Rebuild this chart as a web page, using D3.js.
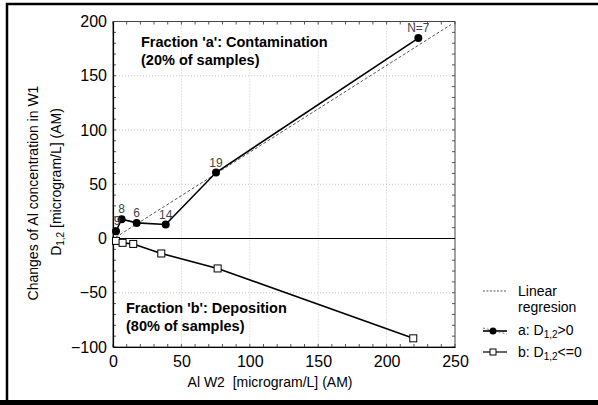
<!DOCTYPE html>
<html><head><meta charset="utf-8">
<script src="https://cdn.jsdelivr.net/npm/d3@7/dist/d3.min.js"></script>
<style>
body{margin:0;background:#fff;}
svg{display:block;font-family:"Liberation Sans",Arial,sans-serif;}
</style></head>
<body><svg id="c" width="598" height="405"></svg>
<script>
// ---- data ----
const aX = [2.2, 6.3, 17.3, 38.5, 75.3, 223.2];
const aY = [6.7, 17.8, 14.4, 12.9, 60.8, 184.7];
const aLabels = ["9", "8", "6", "14", "19", "N=7"];
const bX = [2.2, 7.0, 14.8, 35.3, 76.5, 219.5];
const bY = [-2.2, -4.0, -5.0, -13.8, -27.6, -92.0];
const regX = [2, 247];
const regY = [1.1, 197.1];
const xTicks = [0, 50, 100, 150, 200, 250];
const yTicks = [-100, -50, 0, 50, 100, 150, 200];

const svg = d3.select("#c");
// outer frame
svg.append("path").attr("d","M7,405 V4 H598").attr("fill","none").attr("stroke","#000").attr("stroke-width",2.5);
svg.append("line").attr("x1",0).attr("x2",598).attr("y1",402.5).attr("y2",402.5).attr("stroke","#000").attr("stroke-width",5);

const L=113, R=455, T=21.5, B=347;
const x = d3.scaleLinear().domain([0,250]).range([L,R]);
const y = d3.scaleLinear().domain([-100,200]).range([B,T]);

// grid
const g = svg.append("g");
g.selectAll(".gx").data(xTicks.filter(d=>d>0&&d<250)).enter().append("line")
  .attr("x1",d=>x(d)).attr("x2",d=>x(d)).attr("y1",T).attr("y2",B)
  .attr("stroke","#c8c8c8").attr("stroke-dasharray","1,2");
g.selectAll(".gy").data(yTicks.filter(d=>d>-100&&d<200&&d!==0)).enter().append("line")
  .attr("x1",L).attr("x2",R).attr("y1",d=>y(d)).attr("y2",d=>y(d))
  .attr("stroke","#c8c8c8").attr("stroke-dasharray","1,2");

// minor ticks (inward)
const minorX = d3.range(0,251,10), minorY = d3.range(-100,201,10);
g.selectAll(".mt").data(minorX).enter().append("line")
  .attr("x1",d=>x(d)).attr("x2",d=>x(d)).attr("y1",T).attr("y2",T+3).attr("stroke","#555");
g.selectAll(".mb").data(minorX).enter().append("line")
  .attr("x1",d=>x(d)).attr("x2",d=>x(d)).attr("y1",B).attr("y2",B-3).attr("stroke","#555");
g.selectAll(".ml").data(minorY).enter().append("line")
  .attr("x1",L).attr("x2",L+3).attr("y1",d=>y(d)).attr("y2",d=>y(d)).attr("stroke","#555");
g.selectAll(".mr").data(minorY).enter().append("line")
  .attr("x1",R).attr("x2",R-3).attr("y1",d=>y(d)).attr("y2",d=>y(d)).attr("stroke","#555");

// frame
svg.append("rect").attr("x",L).attr("y",T).attr("width",R-L).attr("height",B-T)
  .attr("fill","none").attr("stroke","#444").attr("stroke-width",1);

// axes
const xAxis = d3.axisBottom(x).tickValues(xTicks).tickSize(0).tickPadding(9);
const yAxis = d3.axisLeft(y).tickValues(yTicks).tickSize(0).tickPadding(6);
const gx = svg.append("g").attr("transform",`translate(0,${B})`).call(xAxis);
const gy = svg.append("g").attr("transform",`translate(${L},0)`).call(yAxis);
[gx,gy].forEach(a=>{
  a.select(".domain").attr("stroke","#000").attr("stroke-width",1.2);
  a.selectAll("text").attr("font-size",16).attr("fill","#000").attr("font-family","Liberation Sans, Arial, sans-serif");
});

// zero line
svg.append("line").attr("x1",L).attr("x2",R).attr("y1",y(0)).attr("y2",y(0)).attr("stroke","#000").attr("stroke-width",1);

// regression
svg.append("line").attr("x1",x(regX[0])).attr("y1",y(regY[0])).attr("x2",x(regX[1])).attr("y2",y(regY[1]))
  .attr("stroke","#555").attr("stroke-width",1).attr("stroke-dasharray","3,2");

// series a
const aPts = aX.map((d,i)=>({x:d,y:aY[i],l:aLabels[i]}));
const bPts = bX.map((d,i)=>({x:d,y:bY[i]}));
const line = d3.line().x(d=>x(d.x)).y(d=>y(d.y));
svg.append("path").datum(aPts).attr("d",line).attr("fill","none").attr("stroke","#000").attr("stroke-width",1.6);
svg.append("path").datum(bPts).attr("d",line).attr("fill","none").attr("stroke","#000").attr("stroke-width",1.6);
svg.selectAll(".pa").data(aPts).enter().append("circle")
  .attr("cx",d=>x(d.x)).attr("cy",d=>y(d.y)).attr("r",4).attr("fill","#000");
svg.selectAll(".pb").data(bPts).enter().append("rect")
  .attr("x",d=>x(d.x)-3.5).attr("y",d=>y(d.y)-3.5).attr("width",7).attr("height",7)
  .attr("fill","#fff").attr("stroke","#000").attr("stroke-width",1);
svg.selectAll(".la").data(aPts).enter().append("text")
  .attr("x",(d,i)=>x(d.x)+(i===0?1:0)).attr("y",d=>y(d.y)-6).attr("text-anchor","middle")
  .attr("font-size",12).attr("fill","#444").text(d=>d.l);

// annotations
const ann = [
  {t:"Fraction 'a': Contamination", x:141, y:47},
  {t:"(20% of samples)", x:141, y:65},
  {t:"Fraction 'b': Deposition", x:126, y:313},
  {t:"(80% of samples)", x:126, y:331}
];
svg.selectAll(".ann").data(ann).enter().append("text")
  .attr("x",d=>d.x).attr("y",d=>d.y).attr("font-size",14.5).attr("font-weight","bold").text(d=>d.t);

// axis titles
svg.append("text").attr("x",270).attr("y",387).attr("text-anchor","middle").attr("font-size",14)
  .attr("xml:space","preserve").text("Al W2  [microgram/L] (AM)");
svg.append("text").attr("transform","translate(38,193) rotate(-90)").attr("text-anchor","middle").attr("font-size",14)
  .text("Changes of Al concentration in W1");
const t2 = svg.append("text").attr("transform","translate(61,182) rotate(-90)").attr("text-anchor","middle").attr("font-size",14);
t2.append("tspan").text("D");
t2.append("tspan").attr("font-size",10).attr("dy",3).text("1,2");
t2.append("tspan").attr("dy",-3).text(" [microgram/L] (AM)");

// legend
const lg = svg.append("g");
lg.append("line").attr("x1",483).attr("x2",507).attr("y1",291).attr("y2",291).attr("stroke","#555").attr("stroke-dasharray","2,1.5");
lg.append("text").attr("x",518).attr("y",296).attr("font-size",14).text("Linear");
lg.append("text").attr("x",518).attr("y",312).attr("font-size",14).text("regresion");
lg.append("line").attr("x1",483).attr("x2",507).attr("y1",331).attr("y2",331).attr("stroke","#000").attr("stroke-width",1.6);
lg.append("line").attr("x1",483).attr("x2",507).attr("y1",328).attr("y2",334).attr("stroke","#777").attr("stroke-dasharray","2,2");
lg.append("circle").attr("cx",493).attr("cy",331).attr("r",3.5).attr("fill","#000");
const la = lg.append("text").attr("x",518).attr("y",335).attr("font-size",14);
la.append("tspan").text("a: D"); la.append("tspan").attr("font-size",10).attr("dy",3).text("1,2"); la.append("tspan").attr("dy",-3).text(">0");
lg.append("line").attr("x1",483).attr("x2",507).attr("y1",352).attr("y2",352).attr("stroke","#000").attr("stroke-width",1.2);
lg.append("rect").attr("x",490).attr("y",349).attr("width",6).attr("height",6).attr("fill","#fff").attr("stroke","#000");
const lb = lg.append("text").attr("x",518).attr("y",357).attr("font-size",14);
lb.append("tspan").text("b: D"); lb.append("tspan").attr("font-size",10).attr("dy",3).text("1,2"); lb.append("tspan").attr("dy",-3).text("<=0");
</script></body></html>
